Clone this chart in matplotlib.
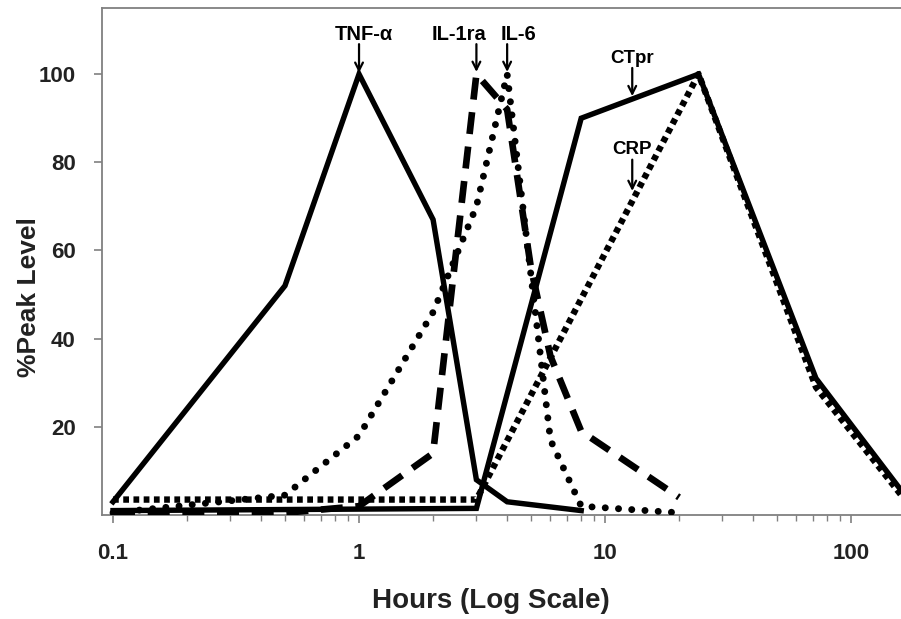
import matplotlib
matplotlib.use("Agg")
import matplotlib.pyplot as plt
import numpy as np
from matplotlib.ticker import FixedLocator, LogLocator, NullFormatter

plt.rcParams['font.family'] = ['Liberation Sans', 'DejaVu Sans']

# ---- data (hours, % peak level) ----
tnf_x = [0.1, 0.5, 1, 2, 3, 4, 8]
tnf_y = [3, 52, 100, 67, 8, 3, 1]

il1ra_x = [0.1, 0.5, 1, 2, 3, 4, 5, 6, 8, 20]
il1ra_y = [0.5, 0.5, 2, 14, 100, 92, 56, 36, 19, 4]

il6_x = [0.1, 0.5, 1, 2, 3, 4, 6, 8, 20]
il6_y = [0.5, 4.5, 18, 46, 70, 100, 17, 2, 0.5]

ctpr_x = [0.1, 3, 8, 24, 72, 168]
ctpr_y = [1, 1.5, 90, 100, 31, 4]

crp_x = [0.1, 3, 24, 72, 168]
crp_y = [3.5, 3.5, 100, 29, 3]

x_ticks = [0.1, 1, 10, 100]
x_ticklabels = ["0.1", "1", "10", "100"]
y_ticks = [20, 40, 60, 80, 100]
y_ticklabels = ["20", "40", "60", "80", "100"]

W, H = 901, 619
fig = plt.figure(figsize=(W/100, H/100), dpi=100)
ax = fig.add_axes([102/W, 1-515/H, 1-102/W, (515-8)/H])

lw = 3.9
ax.plot(tnf_x, tnf_y, color='black', lw=lw, solid_joinstyle='miter', zorder=5)
ax.plot(ctpr_x, ctpr_y, color='black', lw=lw, solid_joinstyle='miter', zorder=5)
ax.plot(il1ra_x, il1ra_y, color='black', lw=4.8, linestyle=(0, (3.3, 1.9)),
        dash_capstyle='butt', zorder=4)
ax.plot(il6_x, il6_y, color='black', lw=5.0, linestyle=(0, (0.01, 1.9)),
        dash_capstyle='round', zorder=4)
ax.plot(crp_x, crp_y, color='black', lw=4.6, linestyle=(0, (0.9, 0.7)),
        dash_capstyle='butt', zorder=4)

ax.set_xscale('log')
ax.set_xlim(0.0902, 159.6)
ax.set_ylim(0, 115)

ax.xaxis.set_major_locator(FixedLocator(x_ticks))
ax.set_xticklabels(x_ticklabels)
ax.xaxis.set_minor_locator(LogLocator(base=10, subs=np.arange(2, 10)))
ax.xaxis.set_minor_formatter(NullFormatter())
ax.yaxis.set_major_locator(FixedLocator(y_ticks))
ax.set_yticklabels(y_ticklabels)

gray = '#808080'
for side in ['left', 'bottom', 'top']:
    ax.spines[side].set_color(gray)
    ax.spines[side].set_linewidth(1.3)
ax.spines['right'].set_visible(False)

ax.tick_params(axis='both', which='major', direction='out', color=gray,
               width=1.2, length=6, labelsize=16, pad=6)
ax.tick_params(axis='x', which='minor', direction='out', color=gray,
               width=1.0, length=4)
for lab in ax.get_xticklabels() + ax.get_yticklabels():
    lab.set_fontweight('bold')
    lab.set_color('#222222')
ax.tick_params(axis='x', which='major', pad=14)
ax.tick_params(axis='y', which='major', pad=13)

# axis titles placed where the reference shows them
fig.text(491/W, 1-601/H, 'Hours (Log Scale)', fontsize=20, fontweight='bold',
         color='#222222', ha='center', va='center')
fig.text(29/W, 1-297/H, '%Peak Level', fontsize=19, fontweight='bold',
         color='#222222', ha='center', va='center', rotation=90)

# ---- annotations ----
arrow_kw = dict(arrowstyle='->', color='black', lw=1.6,
                mutation_scale=14, shrinkA=0, shrinkB=0)
tfs = 14.5

def mark(label, x, y_tip, y_tail, x_text, y_text, fs=tfs):
    ax.annotate('', xy=(x, y_tip), xytext=(x, y_tail), arrowprops=arrow_kw,
                annotation_clip=False, zorder=6)
    ax.text(x_text, y_text, label, ha='center', va='center', fontsize=fs,
            fontweight='bold', zorder=6)

mark('TNF-α', 1.0, max(tnf_y) + 0.3, 106.8, 1.05, 108.9)
mark('IL-1ra', 3.0, max(il1ra_y) + 0.5, 106.8, 2.55, 108.9)
mark('IL-6', 4.0, max(il6_y) + 0.5, 106.8, 4.45, 108.9)
mark('CTpr', 12.9, 95.0, 101.4, 12.9, 103.5, fs=13.5)
mark('CRP', 12.9, 73.5, 80.6, 12.9, 82.8, fs=13.5)

fig.savefig('out.png', dpi=100)
